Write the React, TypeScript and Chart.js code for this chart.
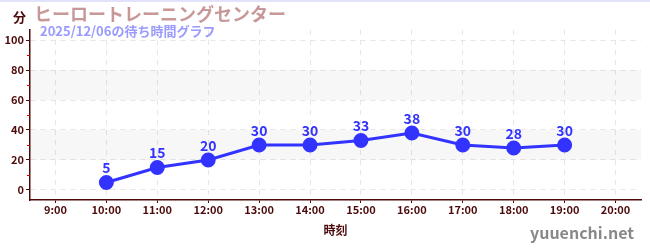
import React, { useEffect, useRef } from "react";
import { Chart, registerables } from "chart.js";

Chart.register(...registerables);

const categories = ["9:00", "10:00", "11:00", "12:00", "13:00", "14:00", "15:00", "16:00", "17:00", "18:00", "19:00", "20:00"];
const waitTimes: (number | null)[] = [null, 5, 15, 20, 30, 30, 33, 38, 30, 28, 30, null];
const yTicks = [0, 20, 40, 60, 80, 100];
const yMinorTicks = [10, 30, 50, 70, 90];
const shadedBands: [number, number][] = [[20, 40], [60, 80]];
const titleText = "ヒーロートレーニングセンター";
const subtitleText = "2025/12/06の待ち時間グラフ";
const unitText = "分";
const xTitleText = "時刻";
const siteText = "yuuenchi.net";

const FONT = "'Noto Sans CJK JP', 'Noto Sans', sans-serif";
const DARK = "#4d0a0a";
const BLUE = "#3333ff";

const decorPlugin = {
  id: "decor",
  beforeDatasetsDraw(chart: any) {
    const { ctx, chartArea, scales } = chart;
    const y = scales.y;
    ctx.save();
    ctx.fillStyle = "rgba(0,0,0,0.03)";
    for (const [a, b] of shadedBands) {
      const y1 = y.getPixelForValue(b);
      const y2 = y.getPixelForValue(a);
      ctx.fillRect(chartArea.left, y1, chartArea.right - chartArea.left, y2 - y1);
    }
    ctx.restore();
  },
  afterDraw(chart: any) {
    const { ctx, chartArea, scales } = chart;
    const y = scales.y;
    ctx.save();
    ctx.strokeStyle = "#dd0000";
    ctx.lineWidth = 1;
    for (const v of yMinorTicks) {
      const py = Math.round(y.getPixelForValue(v)) + 0.5;
      ctx.beginPath();
      ctx.moveTo(chartArea.left - 3, py);
      ctx.lineTo(chartArea.left, py);
      ctx.stroke();
    }
    ctx.fillStyle = "#e2e2fa";
    ctx.fillRect(0, 0, chart.width, 2);
    ctx.textBaseline = "middle";
    ctx.textAlign = "left";
    ctx.fillStyle = DARK;
    ctx.font = `bold 13px ${FONT}`;
    ctx.fillText(unitText, 13, 17);
    ctx.fillStyle = "#c89898";
    ctx.font = `bold 18px ${FONT}`;
    ctx.fillText(titleText, 34, 14);
    ctx.fillStyle = "#9a9aff";
    ctx.font = `bold 13px ${FONT}`;
    ctx.fillText(subtitleText, 40, 31);
    ctx.fillStyle = "#888888";
    ctx.font = `bold 16px ${FONT}`;
    ctx.textAlign = "right";
    ctx.fillText(siteText, 634, 233);
    const meta = chart.getDatasetMeta(0);
    ctx.fillStyle = BLUE;
    ctx.font = `bold 14px ${FONT}`;
    ctx.textAlign = "center";
    ctx.textBaseline = "alphabetic";
    meta.data.forEach((pt: any, i: number) => {
      const v = waitTimes[i];
      if (v === null || v === undefined) return;
      ctx.fillText(String(v), pt.x, pt.y - 9);
    });
    ctx.restore();
  },
};

export default function App() {
  const ref = useRef<HTMLCanvasElement>(null);
  useEffect(() => {
    document.body.style.margin = "0";
    const chart = new Chart(ref.current!, {
      type: "line",
      data: {
        labels: categories,
        datasets: [
          {
            data: waitTimes,
            borderColor: BLUE,
            backgroundColor: BLUE,
            borderWidth: 3,
            pointRadius: 6,
            pointBackgroundColor: BLUE,
            pointBorderColor: BLUE,
            spanGaps: false,
          },
        ],
      },
      options: {
        animation: false,
        responsive: false,
        maintainAspectRatio: false,
        layout: { padding: { top: 30, right: 9, left: 0, bottom: 0 } },
        plugins: { legend: { display: false }, tooltip: { enabled: false }, title: { display: false } },
        scales: {
          x: {
            offset: true,
            grid: { color: "#e6e6e6", tickColor: DARK, tickLength: 3, offset: false },
            border: { color: DARK, width: 1.5, dash: [5, 5] },
            ticks: { color: DARK, font: { family: FONT, size: 11, weight: "bold" }, padding: 0, maxRotation: 0 },
            title: { display: true, text: xTitleText, color: DARK, font: { family: FONT, size: 12, weight: "bold" }, padding: { top: 2, bottom: 12 } },
            afterFit: (s: any) => { s.height = 50; },
          },
          y: {
            min: -6.7,
            max: 106.7,
            afterBuildTicks: (s: any) => { s.ticks = yTicks.map((v) => ({ value: v })); },
            grid: { color: "#e6e6e6", tickColor: DARK, tickLength: 4 },
            border: { color: DARK, width: 1.5, dash: [5, 5] },
            ticks: { color: DARK, font: { family: FONT, size: 11, weight: "bold" }, padding: 2 },
            afterFit: (s: any) => { s.width = 30; },
          },
        },
      },
      plugins: [decorPlugin],
    });
    return () => chart.destroy();
  }, []);
  return <canvas ref={ref} width={650} height={250} style={{ display: "block" }} />;
}
